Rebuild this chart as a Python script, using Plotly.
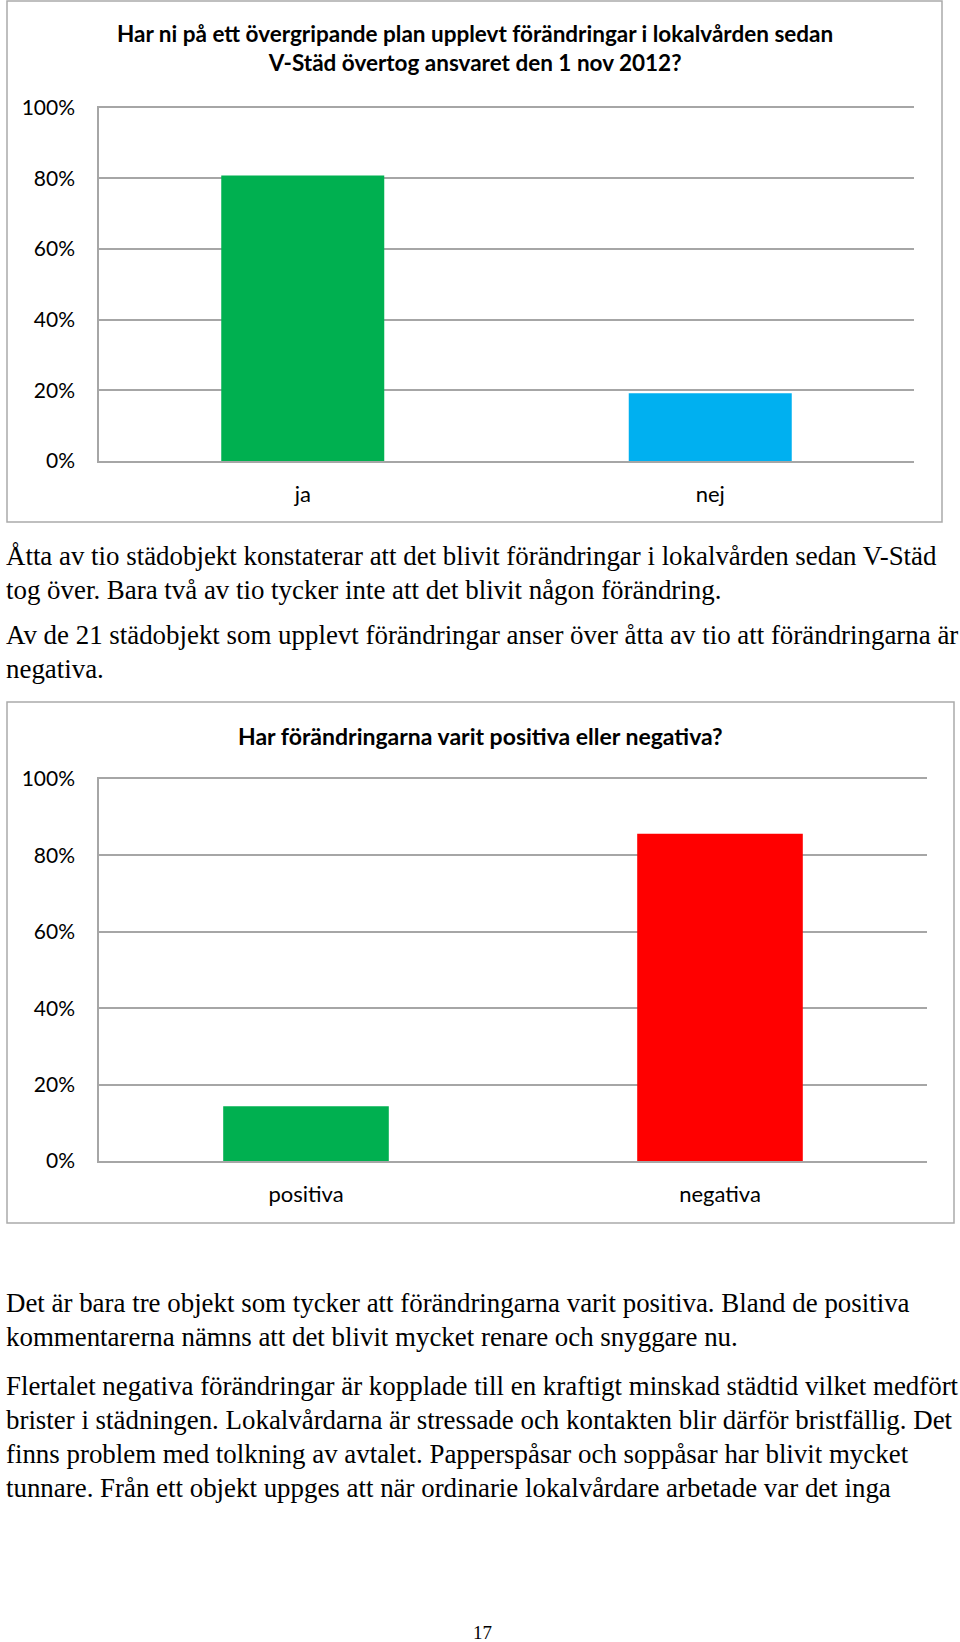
import plotly.graph_objects as go

# ---------------- data ----------------
q1_title = "Har ni på ett övergripande plan upplevt förändringar i lokalvården sedan<br>V-Städ övertog ansvaret den 1 nov 2012?"
q1_categories = ["ja", "nej"]
q1_values = [0.808, 0.192]
q1_colors = ["#00B050", "#00B0F0"]

q2_title = "Har förändringarna varit positiva eller negativa?"
q2_categories = ["positiva", "negativa"]
q2_values = [0.143, 0.857]
q2_colors = ["#00B050", "#FF0000"]

y_tickvals = [0, 0.2, 0.4, 0.6, 0.8, 1.0]
y_ticktext = ["0%", "20%", "40%", "60%", "80%", "100%"]

para_1 = [
    "Åtta av tio städobjekt konstaterar att det blivit förändringar i lokalvården sedan V-Städ",
    "tog över. Bara två av tio tycker inte att det blivit någon förändring.",
]
para_2 = [
    "Av de 21 städobjekt som upplevt förändringar anser över åtta av tio att förändringarna är",
    "negativa.",
]
para_3 = [
    "Det är bara tre objekt som tycker att förändringarna varit positiva. Bland de positiva",
    "kommentarerna nämns att det blivit mycket renare och snyggare nu.",
]
para_4 = [
    "Flertalet negativa förändringar är kopplade till en kraftigt minskad städtid vilket medfört",
    "brister i städningen. Lokalvårdarna är stressade och kontakten blir därför bristfällig. Det",
    "finns problem med tolkning av avtalet. Papperspåsar och soppåsar har blivit mycket",
    "tunnare. Från ett objekt uppges att när ordinarie lokalvårdare arbetade var det inga",
]
page_number = "17"

# ---------------- layout helpers ----------------
W, H = 960, 1642
def px(x):
    return x / W
def py(y):
    return 1 - y / H

CHART_FONT = "Lato, Calibri, Carlito, sans-serif"
SERIF_FONT = "Liberation Serif, Palatino Linotype, Book Antiqua, serif"
GRID = "#A6A6A6"
BORDER = "#ABABAB"

fig = go.Figure()

fig.add_trace(go.Bar(x=q1_categories, y=q1_values, marker=dict(color=q1_colors, line=dict(width=0)),
                     width=0.4, xaxis="x", yaxis="y", showlegend=False, hoverinfo="x+y"))
fig.add_trace(go.Bar(x=q2_categories, y=q2_values, marker=dict(color=q2_colors, line=dict(width=0)),
                     width=0.4, xaxis="x2", yaxis="y2", showlegend=False, hoverinfo="x+y"))

yaxis_common = dict(range=[0, 1], tickvals=y_tickvals, ticktext=y_ticktext,
                    showgrid=True, gridcolor=GRID, gridwidth=1.5,
                    showline=True, linecolor=GRID, linewidth=1.5,
                    zeroline=False, ticks="", ticklabelstandoff=18, automargin=False,
                    tickfont=dict(family=CHART_FONT, size=21, color="#000000"),
                    fixedrange=True)
xaxis_common = dict(showline=True, mirror=True, linecolor=GRID, linewidth=1.5, showgrid=False,
                    ticks="", ticklabelstandoff=13, automargin=False,
                    tickfont=dict(family=CHART_FONT, size=22, color="#000000"),
                    fixedrange=True)

fig.update_layout(
    width=W, height=H, autosize=False,
    margin=dict(l=0, r=0, t=0, b=0, pad=0, autoexpand=False),
    paper_bgcolor="white", plot_bgcolor="white",
    showlegend=False,
    xaxis=dict(domain=[px(99), px(914)], anchor="y", **xaxis_common),
    yaxis=dict(domain=[py(461), py(107.7)], anchor="x", **yaxis_common),
    xaxis2=dict(domain=[px(99), px(927)], anchor="y2", **xaxis_common),
    yaxis2=dict(domain=[py(1161), py(779)], anchor="x2", **yaxis_common),
)

shapes = [
    dict(type="rect", xref="paper", yref="paper", x0=px(7), x1=px(942), y0=py(522), y1=py(1),
         line=dict(color=BORDER, width=1.5), fillcolor="rgba(0,0,0,0)", layer="below"),
    dict(type="rect", xref="paper", yref="paper", x0=px(7), x1=px(954), y0=py(1223), y1=py(702),
         line=dict(color=BORDER, width=1.5), fillcolor="rgba(0,0,0,0)", layer="below"),
]
fig.update_layout(shapes=shapes)

annotations = [
    dict(text="<b>" + q1_title.replace("<br>", "</b><br><b>") + "</b>", xref="paper", yref="paper",
         x=px(474.5), y=py(48), xanchor="center", yanchor="middle", showarrow=False,
         align="center", font=dict(family=CHART_FONT, size=22.5, color="#000000")),
    dict(text="<b>" + q2_title + "</b>", xref="paper", yref="paper",
         x=px(480.5), y=py(736), xanchor="center", yanchor="middle", showarrow=False,
         font=dict(family=CHART_FONT, size=23, color="#000000")),
]

def add_lines(lines, y_positions):
    for t, yy in zip(lines, y_positions):
        annotations.append(dict(text=t, xref="paper", yref="paper", x=px(4), y=py(yy),
                                xanchor="left", yanchor="middle", showarrow=False,
                                font=dict(family=SERIF_FONT, size=26.9, color="#000000")))

add_lines(para_1, [556, 590])
add_lines(para_2, [635, 669])
add_lines(para_3, [1303, 1337])
add_lines(para_4, [1386, 1420, 1454, 1488])

annotations.append(dict(text=page_number, xref="paper", yref="paper", x=px(482), y=py(1632),
                        xanchor="center", yanchor="middle", showarrow=False,
                        font=dict(family=SERIF_FONT, size=19, color="#000000")))

fig.update_layout(annotations=annotations)

fig.write_html("out.html",
               config={"displayModeBar": False, "staticPlot": False},
               post_script="document.body.style.margin='0';document.body.style.overflow='hidden';")
